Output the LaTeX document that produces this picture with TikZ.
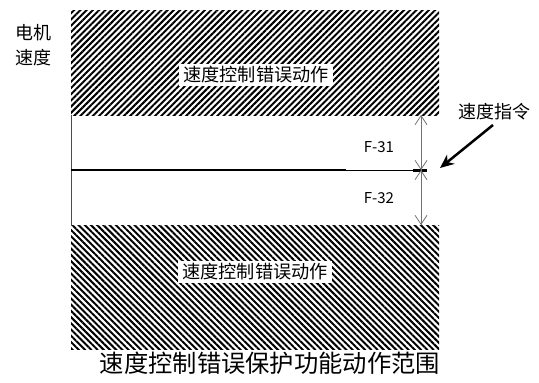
\documentclass[tikz,border=0pt]{standalone}
\usepackage{fontspec}
\setmainfont{Noto Sans CJK SC}
\usetikzlibrary{patterns.meta,arrows.meta}
\begin{document}
\begin{tikzpicture}[x=1pt,y=-1pt,
  lbl/.style={fill=white,inner xsep=4pt,inner ysep=3pt,font=\fontsize{18.2}{18}\selectfont},
  txt/.style={inner sep=0pt,font=\fontsize{18}{18}\selectfont},
  ftxt/.style={inner sep=0pt,font=\fontsize{15}{15}\selectfont},
  dim/.style={draw=black!55,line width=0.8pt,-{Straight Barb[length=9pt,width=12pt]}},
  hatchA/.style={pattern={Lines[angle=45,distance=4.4pt,line width=2pt]}},
  hatchB/.style={pattern={Lines[angle=-45,distance=4.4pt,line width=2pt]}}]
\useasboundingbox (0,0) rectangle (539,383);
% hatched regions
\fill[hatchA] (71,10) rectangle (439,115);
\fill[hatchB] (71,225) rectangle (439,349);
% band edges
\draw[black!70,line width=0.8pt] (71,115) -- (71,225);
% coordinates
\coordinate (top) at (421,115);
\coordinate (mid) at (421,170);
\coordinate (bot) at (421,225);
\coordinate (l0) at (71,170);
\coordinate (l1) at (346,170);
\coordinate (l2) at (413,170);
\coordinate (l3) at (427,170);
% speed line
\draw[line width=2.2pt] (l0) -- (l1);
\draw[line width=1pt] (l1) -- (l2);
\draw[line width=3pt] (l2) -- (l3);
% dimension arrows
\draw[dim] (mid) -- (top);
\draw[dim] (top) -- (mid);
\draw[dim] (mid) -- (bot);
\draw[dim] (bot) -- (mid);
% labels
\node[lbl] (errtop) at (256,75) {速度控制错误动作};
\node[lbl] (errbot) at (255,272) {速度控制错误动作};
\node[ftxt] (f31) at (379,147) {F-31};
\node[ftxt] (f32) at (379,198) {F-32};
\node[txt] (m1) at (34,33) {电机};
\node[txt] (m2) at (34,58) {速度};
\node[txt] (cmd) at (494,112) {速度指令};
\coordinate (tip) at (440,168);
\draw[line width=2.5pt,-{Stealth[length=14pt,width=12pt]}] (493,125) -- (tip);
\node[inner sep=0pt,font=\fontsize{24.3}{24}\selectfont] (title) at (270,363) {速度控制错误保护功能动作范围};
\end{tikzpicture}
\end{document}
